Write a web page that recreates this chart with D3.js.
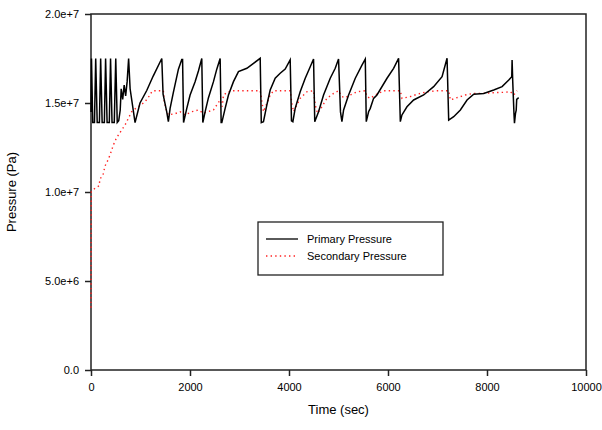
<!DOCTYPE html>
<html>
<head>
<meta charset="utf-8">
<script src="https://cdn.jsdelivr.net/npm/d3@7"></script>
<style>
  body { margin: 0; background: #fff; }
  text { font-family: "Liberation Sans", Arial, sans-serif; }
</style>
</head>
<body>
<script>

// primary pressure (black solid) - time in sec, pressure in Pa
const primaryTime = [0,10,35,70,95,125,170,195,225,270,295,325,370,395,425,470,500,530,560,590,610,640,670,700,730,760,790,890,990,1126,1254,1430,1456,1530,1563,1598,1664,1766,1834,1850,1870,1935,2002,2103,2170,2238,2259,2305,2373,2474,2541,2609,2629,2643,2710,2777,2878,2979,3149,3418,3440,3484,3553,3620,3721,3822,3923,4024,4050,4078,4125,4226,4328,4429,4496,4520,4597,4698,4833,4934,5001,5040,5069,5103,5204,5339,5474,5541,5561,5608,5642,5709,5777,5980,6113,6214,6249,6282,6383,6518,6720,6922,7092,7193,7226,7327,7462,7597,7732,7934,8136,8305,8440,8500,8507,8520,8545,8555,8575,8590,8600,8640];
const primaryPressure = [1.45e7,1.75e7,1.39e7,1.39e7,1.75e7,1.39e7,1.39e7,1.75e7,1.39e7,1.39e7,1.75e7,1.39e7,1.39e7,1.75e7,1.39e7,1.39e7,1.75e7,1.39e7,1.40e7,1.46e7,1.58e7,1.52e7,1.60e7,1.54e7,1.62e7,1.75e7,1.58e7,1.39e7,1.50e7,1.57e7,1.65e7,1.75e7,1.55e7,1.45e7,1.395e7,1.47e7,1.56e7,1.69e7,1.745e7,1.745e7,1.39e7,1.47e7,1.545e7,1.62e7,1.68e7,1.75e7,1.39e7,1.45e7,1.53e7,1.62e7,1.69e7,1.75e7,1.39e7,1.39e7,1.47e7,1.545e7,1.62e7,1.676e7,1.695e7,1.751e7,1.39e7,1.395e7,1.49e7,1.573e7,1.639e7,1.667e7,1.691e7,1.742e7,1.40e7,1.395e7,1.47e7,1.563e7,1.639e7,1.704e7,1.747e7,1.395e7,1.451e7,1.545e7,1.639e7,1.695e7,1.747e7,1.45e7,1.395e7,1.461e7,1.545e7,1.639e7,1.713e7,1.747e7,1.395e7,1.451e7,1.47e7,1.526e7,1.545e7,1.639e7,1.695e7,1.751e7,1.395e7,1.433e7,1.479e7,1.517e7,1.545e7,1.592e7,1.648e7,1.751e7,1.404e7,1.423e7,1.461e7,1.517e7,1.549e7,1.554e7,1.573e7,1.592e7,1.629e7,1.648e7,1.742e7,1.62e7,1.44e7,1.386e7,1.44e7,1.46e7,1.52e7,1.53e7];

// secondary pressure (red dotted)
const secondaryTime = [0,5,81,162,182,243,283,344,384,445,485,552,620,687,755,822,856,957,1092,1193,1227,1260,1462,1480,1530,1563,1700,1800,1901,2036,2170,2271,2474,2541,2609,2650,2676,2777,2845,3418,3484,3553,3620,3688,4024,4058,4092,4159,4226,4361,4496,4530,4577,4665,4766,4901,5001,5069,5137,5238,5373,5541,5575,5642,5743,5810,5912,6249,6282,6451,6586,6789,6991,7226,7260,7395,7563,7732,7934,8136,8339,8473,8541,8608];
const secondaryPressure = [3.5e6,1.0e7,1.022e7,1.034e7,1.073e7,1.096e7,1.146e7,1.18e7,1.208e7,1.258e7,1.287e7,1.32e7,1.348e7,1.376e7,1.414e7,1.451e7,1.461e7,1.479e7,1.507e7,1.545e7,1.563e7,1.569e7,1.569e7,1.51e7,1.451e7,1.433e7,1.44e7,1.451e7,1.433e7,1.451e7,1.461e7,1.443e7,1.461e7,1.489e7,1.517e7,1.48e7,1.545e7,1.563e7,1.569e7,1.569e7,1.451e7,1.498e7,1.545e7,1.569e7,1.569e7,1.498e7,1.451e7,1.489e7,1.526e7,1.563e7,1.569e7,1.489e7,1.442e7,1.479e7,1.526e7,1.554e7,1.569e7,1.536e7,1.530e7,1.545e7,1.563e7,1.569e7,1.536e7,1.526e7,1.545e7,1.554e7,1.569e7,1.569e7,1.526e7,1.536e7,1.549e7,1.563e7,1.569e7,1.569e7,1.517e7,1.530e7,1.545e7,1.554e7,1.554e7,1.558e7,1.56e7,1.563e7,1.545e7,1.569e7];

const xTicks = [0,2000,4000,6000,8000,10000];
const yTicks = [0,5e6,1e7,1.5e7,2e7];
const yTickLabels = ["0.0","5.0e+6","1.0e+7","1.5e+7","2.0e+7"];
const seriesNames = ["Primary Pressure","Secondary Pressure"];

function drawChart(){

    const xSize = 602; const ySize = 430;
    const margin = {top: 14, right: 16, bottom: 60, left: 91};
    const xMax = xSize - margin.left - margin.right;
    const yMax = ySize - margin.top - margin.bottom;

    const svg = d3.select("body")
    .append("svg")
    .attr("width", xSize)
    .attr("height", ySize)
    .append("g")
    .attr("transform", "translate(" + margin.left + "," + margin.top + ")");

    const x = d3.scaleLinear()
    .domain([0, 10000])
    .range([0, xMax]);

    const y = d3.scaleLinear()
    .domain([0, 2e7])
    .range([yMax, 0]);

    // bottom axis
    const xAxis = svg.append("g")
    .attr("transform", "translate(0," + yMax + ")")
    .call(d3.axisBottom(x).tickValues(xTicks).tickFormat(d3.format("d")).tickSize(6).tickPadding(7));

    // left axis
    const yAxis = svg.append("g")
    .call(d3.axisLeft(y).tickValues(yTicks).tickFormat((d,i) => yTickLabels[i]).tickSize(6).tickPadding(6));

    [xAxis, yAxis].forEach(a => {
        a.select(".domain").remove();
        a.selectAll("line").attr("stroke", "#222").attr("stroke-width", 1.5);
        a.selectAll("text").style("font-size", "11px").attr("fill", "#000")
         .style("font-family", "'Liberation Sans', Arial, sans-serif");
    });

    // frame
    svg.append("rect")
    .attr("x", 0).attr("y", 0)
    .attr("width", xMax).attr("height", yMax)
    .attr("fill", "none")
    .attr("stroke", "#222")
    .attr("stroke-width", 1.5);

    // axis titles
    svg.append("text")
    .attr("x", xMax/2)
    .attr("y", yMax + 44)
    .attr("text-anchor", "middle")
    .style("font-size", "13px")
    .text("Time (sec)");

    svg.append("text")
    .attr("transform", "translate(" + (-75) + "," + (yMax/2) + ") rotate(-90)")
    .attr("text-anchor", "middle")
    .style("font-size", "13px")
    .text("Pressure (Pa)");

    const line = d3.line()
    .x(d => x(d[0]))
    .y(d => y(d[1]));

    const primary = primaryTime.map((t,i) => [t, primaryPressure[i]]);
    const secondary = secondaryTime.map((t,i) => [t, secondaryPressure[i]]);

    svg.append("path")
    .datum(secondary)
    .attr("fill", "none")
    .attr("stroke", "#ff2020")
    .attr("stroke-width", 1.4)
    .attr("stroke-dasharray", "1.4,3.2")
    .attr("d", line);

    svg.append("path")
    .datum(primary)
    .attr("fill", "none")
    .attr("stroke", "#000")
    .attr("stroke-width", 1.5)
    .attr("d", line);

    // legend
    const legend = svg.append("g")
    .attr("transform", "translate(" + (258 - margin.left) + "," + (222 - margin.top) + ")");

    legend.append("rect")
    .attr("width", 185).attr("height", 53)
    .attr("fill", "#fff")
    .attr("stroke", "#222")
    .attr("stroke-width", 1.3);

    const styles = [{c: "#000", dash: null}, {c: "#ff2020", dash: "1.4,3.2"}];
    seriesNames.forEach((name, i) => {
        const ly = 17 + i*17;
        legend.append("line")
        .attr("x1", 8).attr("x2", 40)
        .attr("y1", ly).attr("y2", ly)
        .attr("stroke", styles[i].c)
        .attr("stroke-width", i ? 1.4 : 1.3)
        .attr("stroke-dasharray", styles[i].dash);
        legend.append("text")
        .attr("x", 49).attr("y", ly + 4)
        .style("font-size", "11px")
        .text(name);
    });
}

drawChart();
</script>
</body>
</html>
